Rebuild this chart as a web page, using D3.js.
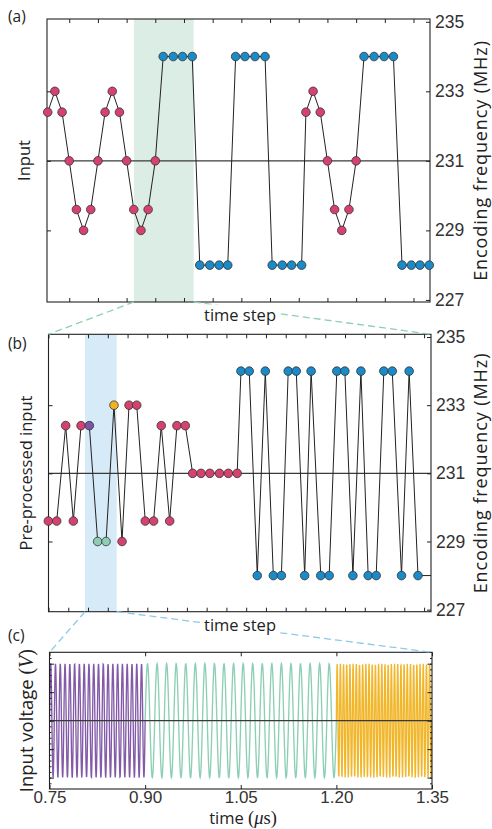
<!DOCTYPE html>
<html>
<head>
<meta charset="utf-8">
<script src="https://cdn.jsdelivr.net/npm/d3@7"></script>
<style>
  body { margin: 0; background: #fff; }
  text { font-family: "Open Sans", "Noto Sans", sans-serif; }
</style>
</head>
<body>
<div id="chart"></div>
<script>
// ---- data ----
// panel (a): raw input, encoding frequency per time step
const aTime = [0, 1, 2, 3, 4, 5, 6, 7, 8, 9, 10, 11, 12, 13, 14, 15,
  16.1, 17.5, 18.8, 20.15, 21.2, 22.6, 23.9, 25.1, 26.2, 27.5, 28.9, 30.3, 31.3, 32.7, 34.0, 35.4,
  36, 37, 38, 39, 40, 41, 42, 43,
  44.1, 45.5, 46.9, 48.2, 49.4, 50.7, 51.9, 53.2];
const aFreq = [232.4, 233, 232.4, 231, 229.6, 229, 229.6, 231, 232.4, 233, 232.4, 231, 229.6, 229, 229.6, 231,
  234, 234, 234, 234, 228, 228, 228, 228, 234, 234, 234, 234, 228, 228, 228, 228,
  232.4, 233, 232.4, 231, 229.6, 229, 229.6, 231,
  234, 234, 234, 234, 228, 228, 228, 228];
const aGroup = ("pppppppppppppppp" + "bbbbbbbbbbbbbbbb" + "pppppppp" + "bbbbbbbb").split("");
const aShade = [12.02, 20.35];
const aTicks = [3, 7, 11, 15, 19, 23, 27, 31, 35, 39, 43, 47, 51];

// panel (b): pre-processed input
const bStep = [0, 1.04, 2.16, 3.11, 4.07, 5.1, 6.14, 7.18, 8.17, 9.17, 10.04, 11.0, 12.06, 13.1, 14.05, 15.1,
  16.0, 17.04, 17.96, 19.0, 20.1, 21.3, 22.4, 23.5,
  23.97, 25.0, 26.0, 27.0, 28.0, 29.0, 29.85, 30.85, 31.9, 32.7, 33.9, 34.95, 35.9, 36.9, 37.9,
  38.9, 39.8, 40.8, 41.75, 42.8, 43.95, 44.9, 46.0];
const bFreq = [229.6, 229.6, 232.4, 229.6, 232.4, 232.4, 229, 229, 233, 229, 233, 233, 229.6, 229.6, 232.4, 229.6,
  232.4, 232.4, 231, 231, 231, 231, 231, 231,
  234, 234, 228, 234, 228, 228, 234, 234, 228, 234, 228, 228, 234, 234, 228,
  234, 228, 228, 234, 234, 228, 234, 228];
const bGroup = ("ppppp" + "v" + "gg" + "y" + "ppppppppppppppp" + "bbbbbbbbbbbbbbbbbbbbbbb").split("");
const bTail = [48.6, 228];   // line leaves the frame on the right
const bShade = [4.56, 8.51];
const bTicks = d3.range(0, 20).map(k => 0.02 + 2.46 * k);

// panel (c): input voltage segments
const waveStart = [0.75, 0.90, 1.20];
const waveEnd = [0.90, 1.20, 1.35];
const waveCycles = [20, 20, 30];
const waveGroup = ["v", "g", "y"];
const cTicks = [0.75, 0.90, 1.05, 1.20, 1.35];

const freqTicks = [227, 229, 231, 233, 235];

const colors = { p: "#d6426f", b: "#1a8ac8", v: "#7c55a5", g: "#8dcdb3", y: "#f1b322" };
const waveColors = { v: "#7b51a3", g: "#86ccb0", y: "#f0b21e" };

// ---- layout ----
const width = 492, height = 829;
const svg = d3.select("#chart").append("svg")
  .attr("width", width).attr("height", height);

const boxA = { l: 47, r: 430, t: 19, b: 302 };
const boxB = { l: 48.5, r: 431, t: 334.3, b: 611.7 };
const boxC = { l: 49.5, r: 432, t: 652.3, b: 789 };

const xA = d3.scaleLinear().domain([-0.1, 53.3]).range([boxA.l, boxA.r]);
const yA = d3.scaleLinear().domain([226.94, 235.08]).range([boxA.b, boxA.t]);
const xB = d3.scaleLinear().domain([0.02, 47.62]).range([boxB.l, boxB.r]);
const yB = d3.scaleLinear().domain([226.94, 235.08]).range([boxB.b, boxB.t]);
const xC = d3.scaleLinear().domain([0.75, 1.35]).range([boxC.l, boxC.r]);
const yC = d3.scaleLinear().domain([-1.2, 1.2]).range([boxC.b, boxC.t]);

function cleanAxis(g, size) {
  g.select(".domain").remove();
  g.selectAll(".tick line").attr("stroke", "#222");
  g.selectAll(".tick text")
    .attr("fill", "#333")
    .style("font-family", "'Liberation Sans', Arial, sans-serif")
    .style("font-size", (size || 17.5) + "px");
}

function ticksFor(g, box, x, y, xt, yl, yr) {
  g.append("g").attr("transform", `translate(0,${box.b})`)
    .call(d3.axisBottom(x).tickValues(xt).tickSize(-4).tickFormat(""))
    .call(cleanAxis);
  g.append("g").attr("transform", `translate(0,${box.t})`)
    .call(d3.axisTop(x).tickValues(xt).tickSize(-4).tickFormat(""))
    .call(cleanAxis);
  g.append("g").attr("transform", `translate(${box.l},0)`)
    .call(d3.axisLeft(y).tickValues(yl).tickSize(-4).tickFormat(""))
    .call(cleanAxis);
  g.append("g").attr("transform", `translate(${box.r},0)`)
    .call(d3.axisRight(y).tickValues(yr).tickSize(-4).tickPadding(5))
    .call(cleanAxis);
}

function frame(g, box) {
  g.append("rect")
    .attr("x", box.l).attr("y", box.t)
    .attr("width", box.r - box.l).attr("height", box.b - box.t)
    .attr("fill", "none").attr("stroke", "#222").attr("stroke-width", 1.1);
}

function scatterPanel(id, box, x, y, xs, ys, groups, shade, shadeColor, tail, xt) {
  const g = svg.append("g").attr("id", id);
  g.append("defs").append("clipPath").attr("id", id + "clip")
    .append("rect").attr("x", box.l).attr("y", box.t)
    .attr("width", box.r - box.l).attr("height", box.b - box.t);

  g.append("rect")
    .attr("x", x(shade[0])).attr("y", box.t)
    .attr("width", x(shade[1]) - x(shade[0])).attr("height", box.b - box.t)
    .attr("fill", shadeColor);

  g.append("line")
    .attr("x1", box.l).attr("x2", box.r)
    .attr("y1", y(231)).attr("y2", y(231))
    .attr("stroke", "#3a3a3a").attr("stroke-width", 1.3);

  const pts = xs.map((d, i) => [d, ys[i]]);
  const linePts = tail ? pts.concat([tail]) : pts;
  g.append("path")
    .datum(linePts)
    .attr("clip-path", `url(#${id}clip)`)
    .attr("fill", "none").attr("stroke", "#222").attr("stroke-width", 1)
    .attr("d", d3.line().x(d => x(d[0])).y(d => y(d[1])));

  frame(g, box);
  ticksFor(g, box, x, y, xt, [229, 231, 233], freqTicks);

  g.selectAll("circle.pt").data(pts).join("circle")
    .attr("class", "pt")
    .attr("cx", d => x(d[0])).attr("cy", d => y(d[1]))
    .attr("r", 4.3)
    .attr("fill", (d, i) => colors[groups[i]])
    .attr("stroke", "#333").attr("stroke-width", 0.8);
  return g;
}

scatterPanel("pa", boxA, xA, yA, aTime, aFreq, aGroup, aShade, "#dbede5", null, aTicks);
scatterPanel("pb", boxB, xB, yB, bStep, bFreq, bGroup, bShade, "#d7eaf7", bTail, bTicks);

// ---- panel (c) waveform ----
const gc = svg.append("g").attr("id", "pc");
gc.append("defs").append("clipPath").attr("id", "pcclip")
  .append("rect").attr("x", boxC.l).attr("y", boxC.t)
  .attr("width", boxC.r - boxC.l).attr("height", boxC.b - boxC.t);

waveStart.forEach((t0, i) => {
  const t1 = waveEnd[i];
  const n = Math.round((xC(t1) - xC(t0)) * 4);
  const samples = d3.range(n + 1).map(k => {
    const t = t0 + (t1 - t0) * k / n;
    return [t, Math.sin(2 * Math.PI * waveCycles[i] * (t - t0) / (t1 - t0))];
  });
  gc.append("path")
    .datum(samples)
    .attr("clip-path", "url(#pcclip)")
    .attr("fill", "none")
    .attr("stroke", waveColors[waveGroup[i]])
    .attr("stroke-width", 1.35)
    .attr("stroke-opacity", 0.95)
    .attr("d", d3.line().x(d => xC(d[0])).y(d => yC(d[1])));
});

gc.append("line")
  .attr("x1", boxC.l).attr("x2", boxC.r)
  .attr("y1", yC(0)).attr("y2", yC(0))
  .attr("stroke", "#3a3a3a").attr("stroke-width", 1.3);

frame(gc, boxC);

gc.append("g").attr("transform", `translate(0,${boxC.b})`)
  .call(d3.axisBottom(xC).tickValues(cTicks).tickSize(-4).tickPadding(1.5).tickFormat(d3.format(".2f")))
  .call(cleanAxis, 17);
gc.append("g").attr("transform", `translate(0,${boxC.t})`)
  .call(d3.axisTop(xC).tickValues(cTicks).tickSize(-4).tickFormat(""))
  .call(cleanAxis);
const minorV = d3.range(-11, 12).map(k => k / 10);
const majorV = [-1, -0.5, 0, 0.5, 1];
[[boxC.l, d3.axisLeft], [boxC.r, d3.axisRight]].forEach(([xp, ax]) => {
  gc.append("g").attr("transform", `translate(${xp},0)`)
    .call(ax(yC).tickValues(minorV).tickSize(-2).tickFormat(""))
    .call(cleanAxis);
  gc.append("g").attr("transform", `translate(${xp},0)`)
    .call(ax(yC).tickValues(majorV).tickSize(-4.5).tickFormat(""))
    .call(cleanAxis);
});

// ---- zoom connectors ----
const conn = svg.append("g").attr("fill", "none").attr("stroke-width", 1.3).attr("stroke-dasharray", "7,4");
conn.append("line").attr("stroke", "#8ccfb6")
  .attr("x1", xA(aShade[0])).attr("y1", boxA.b).attr("x2", boxB.l).attr("y2", boxB.t);
conn.append("line").attr("stroke", "#8ccfb6")
  .attr("x1", xA(aShade[1])).attr("y1", boxA.b).attr("x2", boxB.r).attr("y2", boxB.t);
conn.append("line").attr("stroke", "#8ccaea")
  .attr("x1", xB(bShade[0])).attr("y1", boxB.b).attr("x2", boxC.l).attr("y2", boxC.t);
conn.append("line").attr("stroke", "#8ccaea")
  .attr("x1", xB(bShade[1])).attr("y1", boxB.b).attr("x2", boxC.r).attr("y2", boxC.t);

// ---- labels ----
function xLabel(txt, y) {
  const t = svg.append("text").attr("x", 240).attr("y", y)
    .attr("text-anchor", "middle").attr("fill", "#222")
    .style("font-size", "16.5px").text(txt);
  const bb = t.node().getBBox();
  svg.insert("rect", () => t.node())
    .attr("x", bb.x - 2).attr("y", bb.y + 2).attr("width", bb.width + 4).attr("height", bb.height - 3)
    .attr("fill", "#fff");
}
xLabel("time step", 320.5);
xLabel("time step", 630.5);

function yLabel(txt, x, y, size) {
  return svg.append("text")
    .attr("transform", `translate(${x},${y}) rotate(-90)`)
    .attr("text-anchor", "middle").attr("fill", "#222")
    .style("font-size", size + "px").text(txt);
}
yLabel("Input", 30, (boxA.t + boxA.b) / 2, 16.5);
yLabel("Pre-processed input", 32, (boxB.t + boxB.b) / 2, 16.5);
yLabel("Encoding frequency (MHz)", 486.5, (boxA.t + boxA.b) / 2, 18).style("letter-spacing", "0.9px");
yLabel("Encoding frequency (MHz)", 486.5, (boxB.t + boxB.b) / 2, 18).style("letter-spacing", "0.9px");

const vl = yLabel("Input voltage ", 33, (boxC.t + boxC.b) / 2, 18.5);
vl.append("tspan").style("font-family", "'Liberation Serif', serif").style("font-size", "20px").text("(");
vl.append("tspan").style("font-family", "'Liberation Serif', serif").style("font-size", "20px").style("font-style", "italic").text("V");
vl.append("tspan").style("font-family", "'Liberation Serif', serif").style("font-size", "20px").text(")");

const tl = svg.append("text").attr("x", 243).attr("y", 824)
  .attr("text-anchor", "middle").attr("fill", "#222").style("font-size", "16.5px").text("time ");
tl.append("tspan").style("font-family", "'Liberation Serif', serif").style("font-size", "18.5px").text("(");
tl.append("tspan").style("font-family", "'Liberation Serif', serif").style("font-size", "18.5px").style("font-style", "italic").text("μ");
tl.append("tspan").style("font-family", "'Liberation Serif', serif").style("font-size", "18.5px").text("s)");

[["(a)", 22], ["(b)", 349], ["(c)", 641]].forEach(([t, y]) => {
  svg.append("text").attr("x", 8).attr("y", y).attr("fill", "#222")
    .style("font-size", "15.5px").text(t);
});
</script>
</body>
</html>
